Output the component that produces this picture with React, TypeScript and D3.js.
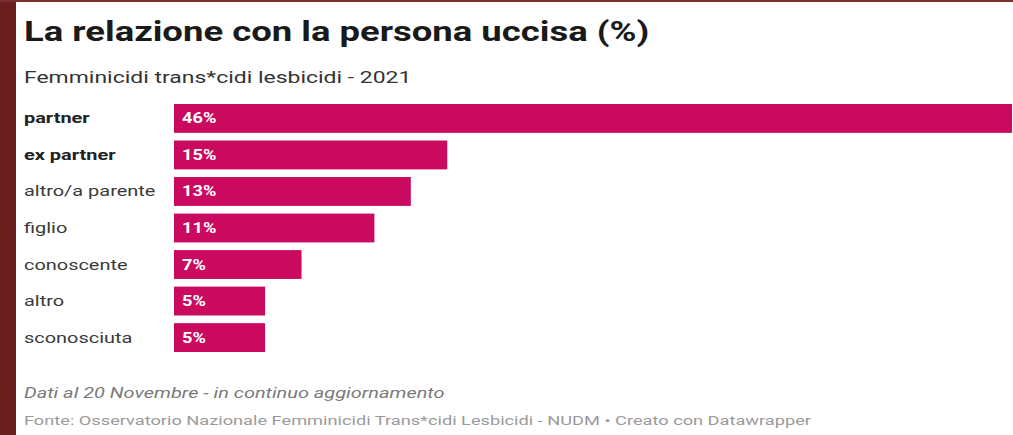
import React from "react";
import * as d3 from "d3";

const categories = ["partner", "ex partner", "altro/a parente", "figlio", "conoscente", "altro", "sconosciuta"];
const values = [46, 15, 13, 11, 7, 5, 5];
const boldCats = ["partner", "ex partner"];

const W = 1013;
const H = 435;

function T(props: { x: number; y: number; sx: number; children: React.ReactNode; [k: string]: any }) {
  const { x, y, sx, children, ...rest } = props;
  return (
    <text transform={`translate(${x},${y}) scale(${sx},1)`} {...rest}>
      {children}
    </text>
  );
}

export default function App() {
  const x = d3.scaleLinear().domain([0, 46]).range([174, 1012]);
  const y = d3.scaleBand().domain(categories).range([104, 352]).paddingInner(0.21).paddingOuter(0.0);
  const bh = y.bandwidth();
  const font = "Roboto, 'Noto Sans', sans-serif";
  return (
    <svg width={W} height={H} style={{ position: "absolute", left: 0, top: 0, display: "block" }} fontFamily={font}>
      <rect x={0} y={0} width={W} height={H} fill="#ffffff" />
      <rect x={0} y={0} width={16} height={H} fill="#6a1e1e" />
      <rect x={0} y={0} width={W} height={2} fill="#7a3030" />
      <T x={24} y={41} sx={1.28} fontSize={28.5} fontWeight={700} fill="#1a1a1a">La relazione con la persona uccisa (%)</T>
      <T x={24} y={83} sx={1.35} fontSize={17} fill="#333">Femminicidi trans*cidi lesbicidi - 2021</T>
      {categories.map((c, i) => {
        const yy = y(c) as number;
        const bold = boldCats.includes(c);
        return (
          <g key={c}>
            <T x={24} y={yy + bh / 2 + 5} sx={1.33} fontSize={15} fontWeight={bold ? 700 : 400} fill={bold ? "#222" : "#3a3a3a"}>{c}</T>
            <rect x={x(0)} y={yy} width={x(values[i]) - x(0)} height={bh} fill="#c90a5f" />
            <T x={x(0) + 8} y={yy + bh / 2 + 5} sx={1.3} fontSize={14} fontWeight={700} fill="#fff">{values[i]}%</T>
          </g>
        );
      })}
      <T x={24} y={398} sx={1.33} fontSize={15} fontStyle="italic" fill="#7a7a7a">Dati al 20 Novembre - in continuo aggiornamento</T>
      <T x={24} y={425} sx={1.35} fontSize={13.5} fill="#9a9a9a">Fonte: Osservatorio Nazionale Femminicidi Trans*cidi Lesbicidi - NUDM • Creato con Datawrapper</T>
    </svg>
  );
}
